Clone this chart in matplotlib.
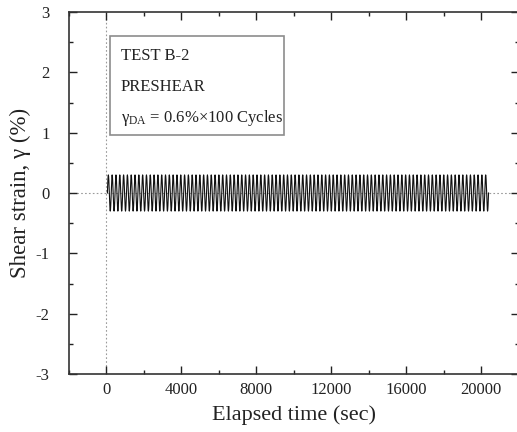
import numpy as np
import matplotlib
matplotlib.use("Agg")
import matplotlib.pyplot as plt
from matplotlib.patches import Rectangle
from matplotlib.ticker import MultipleLocator

plt.rcParams["font.family"] = ["Liberation Serif", "DejaVu Serif"]
plt.rcParams["mathtext.fontset"] = "custom"
plt.rcParams["mathtext.rm"] = "Liberation Serif"
plt.rcParams["mathtext.it"] = "Liberation Serif:italic"
plt.rcParams["axes.unicode_minus"] = False

# ----------------- data (preshear) -----------------
n_cycles = 100           # number of loading cycles
strain_amp = 0.3         # single amplitude (%), gamma_DA = 0.6 %
t_start = 50.0           # first cycle starts (sec)
t_end = 20400.0          # last cycle ends (sec)
pts_per_cycle = 16

box_lines = ["TEST B-2", "PRESHEAR", r"γ$_{\mathrm{DA}}$ = 0.6%×100 Cycles"]
x_ticks = [0, 4000, 8000, 12000, 16000, 20000]
y_ticks = [-3, -2, -1, 0, 1, 2, 3]

# build the cyclic record
t = np.linspace(t_start, t_end, n_cycles * pts_per_cycle + 1)
phase = (t - t_start) / (t_end - t_start) * n_cycles
strain = strain_amp * np.sin(2 * np.pi * phase)

# ----------------- figure -----------------
fig = plt.figure(figsize=(5.17, 4.32), dpi=100)
ax = fig.add_axes([69 / 517, 1 - 374 / 432, (518.5 - 69) / 517, (374 - 12) / 432])

ax.axhline(0, color="#9a9a9a", lw=0.8, ls=(0, (1.5, 2)), zorder=1)
ax.axvline(0, color="#9a9a9a", lw=0.8, ls=(0, (1.5, 2)), zorder=1)
ax.plot(t, strain, color="#111111", lw=0.8, zorder=3)

ax.set_xlim(-2000, 22000)
ax.set_ylim(-3, 3)
ax.set_xticks(x_ticks)
ax.set_yticks(y_ticks)
ax.xaxis.set_minor_locator(MultipleLocator(2000))
ax.yaxis.set_minor_locator(MultipleLocator(0.5))
ax.tick_params(which="both", direction="in", top=True, right=True, width=1.0,
               labelsize=12, color="#222222", labelcolor="#222222")
ax.tick_params(which="major", length=6)
ax.tick_params(axis="x", which="major", pad=6)
ax.tick_params(axis="y", which="major", pad=14)
ax.tick_params(which="minor", length=3)
for s in ax.spines.values():
    s.set_linewidth(1.2)
    s.set_color("#333333")

ax.set_xlabel("Elapsed time (sec)", fontsize=16, labelpad=5, color="#222222")
ax.set_ylabel("Shear strain, γ (%)", fontsize=16.5, labelpad=3, color="#222222")

# annotation box
ax.add_patch(Rectangle((200, 0.96), 9300, 1.64, fill=False, ec="#8c8c8c", lw=1.2, zorder=4))
for yy, s in zip([2.27, 1.76, 1.24], box_lines):
    ax.text(750, yy, s, fontsize=12, va="center", ha="left", color="#222222", zorder=5)

fig.savefig("out.png", dpi=100)
